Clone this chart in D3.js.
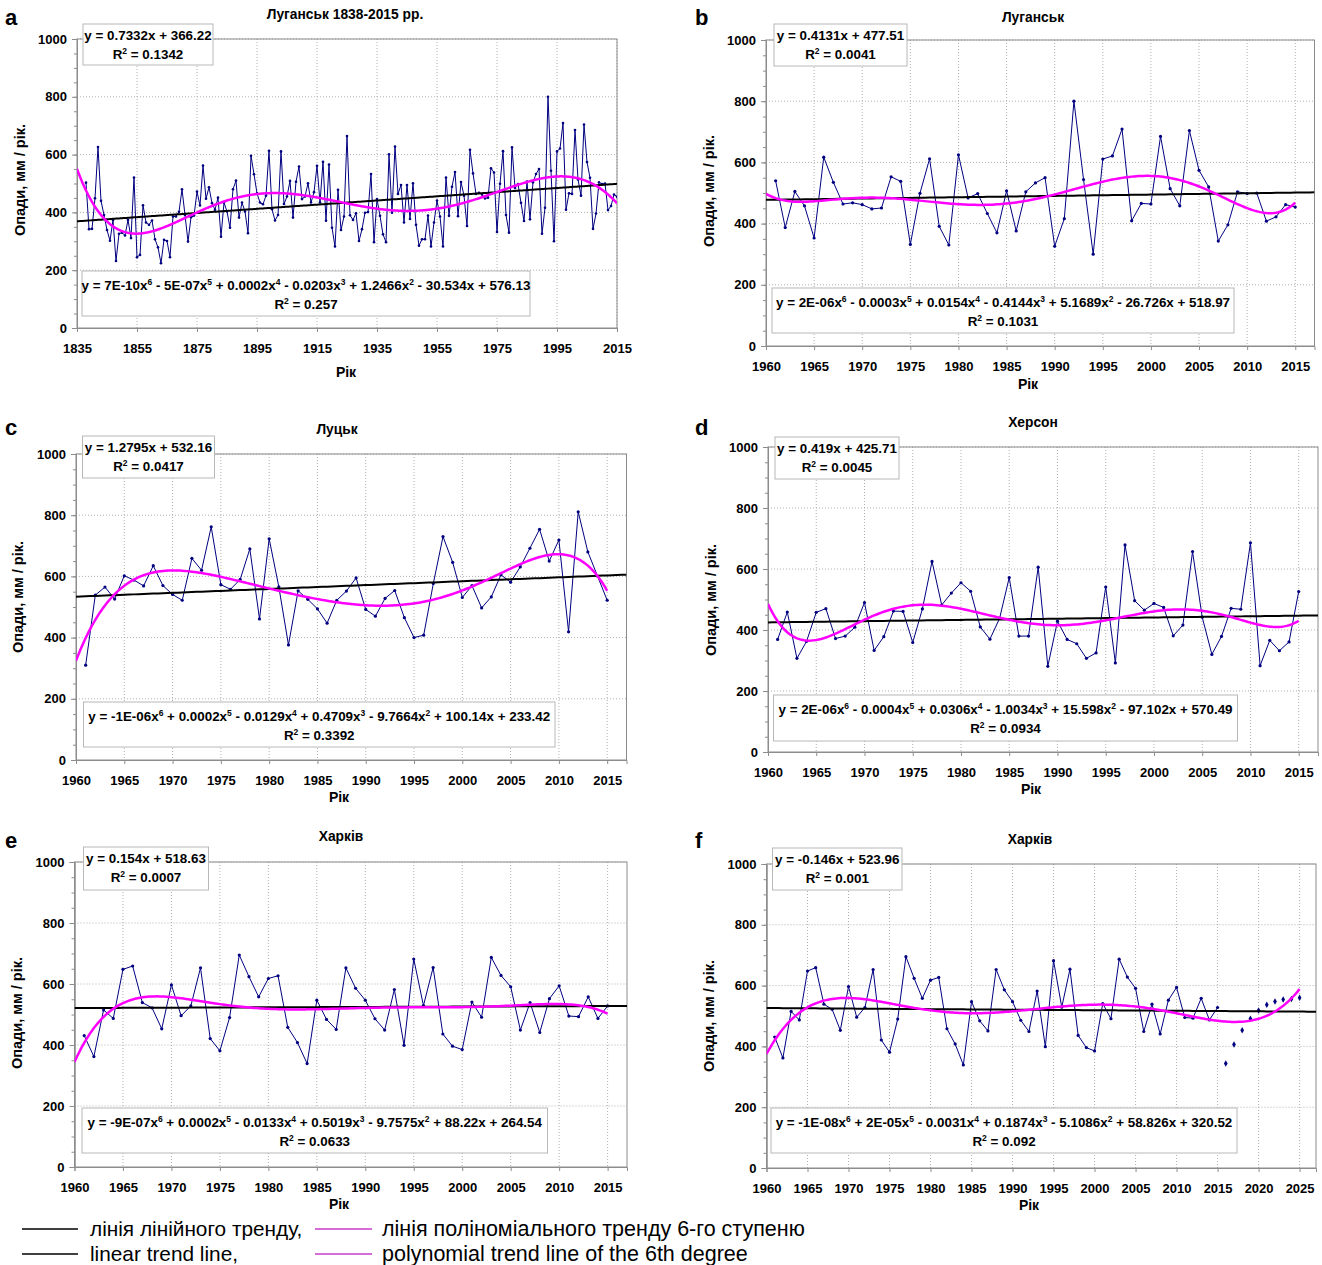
<!DOCTYPE html>
<html>
<head>
<meta charset="utf-8">
<script src="https://cdn.jsdelivr.net/npm/d3@7"></script>
<style>
body { margin: 0; background: #fff; }
svg text { font-family: "Liberation Sans", Arial, sans-serif; }
</style>
</head>
<body>
<svg id="fig" width="1322" height="1265"></svg>
<script>
// annual precipitation, mm / year
const luhanskEarly = [ // 1838-1960
  503, 342, 343, 449, 626, 440, 391, 339, 302, 374,
  232, 326, 330, 320, 374, 311, 521, 245, 253, 425,
  365, 357, 372, 307, 279, 224, 305, 301, 245, 386,
  386, 402, 480, 391, 299, 383, 389, 472, 424, 562,
  447, 487, 432, 409, 451, 316, 434, 403, 347, 480,
  510, 382, 434, 403, 328, 596, 532, 466, 434, 428,
  458, 613, 411, 372, 391, 611, 429, 455, 509, 382,
  506, 559, 446, 455, 501, 434, 470, 561, 434, 575,
  371, 566, 347, 282, 478, 339, 386, 664, 390, 374,
  397, 301, 342, 399, 401, 533, 297, 446, 388, 324,
  297, 601, 399, 628, 464, 495, 365, 495, 377, 501,
  357, 285, 307, 307, 389, 282, 365, 441, 386, 282,
  521, 388, 489
];
const luhansk = [ // 1961-2015
  540, 387, 505, 458, 353, 617, 535, 464, 468, 462,
  448, 451, 553, 538, 332, 499, 612, 391, 330, 625,
  484, 498, 433, 370, 507, 376, 504, 533, 550, 326,
  416, 800, 544, 300, 611, 621, 709, 409, 466, 464,
  685, 514, 458, 704, 574, 520, 343, 396, 504, 498,
  500, 408, 422, 462, 454
];
const lutsk = [ // 1961-2015
  310, 539, 565, 526, 602, 588, 569, 635, 570, 541,
  522, 659, 620, 762, 573, 558, 590, 690, 461, 723,
  566, 376, 553, 525, 494, 447, 522, 552, 595, 492,
  470, 528, 554, 465, 400, 408, 577, 730, 646, 531,
  570, 497, 533, 605, 581, 631, 692, 754, 650, 719,
  419, 811, 680, 601, 522
];
const kherson = [ // 1961-2015
  369, 459, 307, 363, 458, 470, 372, 380, 409, 490,
  333, 378, 462, 461, 359, 469, 625, 482, 521, 555,
  527, 410, 370, 438, 572, 380, 380, 606, 281, 429,
  369, 355, 307, 325, 541, 292, 679, 496, 465, 487,
  474, 381, 416, 657, 442, 320, 379, 471, 468, 686,
  283, 366, 332, 361, 526
];
const kharkiv = [ // 1961-2015
  431, 362, 515, 487, 648, 659, 539, 522, 453, 597,
  496, 528, 653, 421, 381, 490, 695, 624, 558, 618,
  627, 458, 408, 339, 547, 484, 451, 653, 586, 547,
  486, 449, 582, 399, 682, 529, 654, 436, 396, 385,
  541, 491, 687, 628, 591, 449, 539, 441, 552, 594,
  495, 493, 558, 487, 528
];
const kharkivForecast = [344, 406, 453, 491, 518, 537, 548, 554, 556, 560]; // 2016-2025

const titles = ["Луганськ 1838-2015 рр.", "Луганськ", "Луцьк", "Херсон", "Харків", "Харків"];
const letters = ["a", "b", "c", "d", "e", "f"];
const linEq = [
  ["y = 0.7332x + 366.22", "R^2 = 0.1342"],
  ["y = 0.4131x + 477.51", "R^2 = 0.0041"],
  ["y = 1.2795x + 532.16", "R^2 = 0.0417"],
  ["y = 0.419x + 425.71", "R^2 = 0.0045"],
  ["y = 0.154x + 518.63", "R^2 = 0.0007"],
  ["y = -0.146x + 523.96", "R^2 = 0.001"]
];
const polyEq = [
  ["y = 7E-10x^6 - 5E-07x^5 + 0.0002x^4 - 0.0203x^3 + 1.2466x^2 - 30.534x + 576.13", "R^2 = 0.257"],
  ["y = 2E-06x^6 - 0.0003x^5 + 0.0154x^4 - 0.4144x^3 + 5.1689x^2 - 26.726x + 518.97", "R^2 = 0.1031"],
  ["y = -1E-06x^6 + 0.0002x^5 - 0.0129x^4 + 0.4709x^3 - 9.7664x^2 + 100.14x + 233.42", "R^2 = 0.3392"],
  ["y = 2E-06x^6 - 0.0004x^5 + 0.0306x^4 - 1.0034x^3 + 15.598x^2 - 97.102x + 570.49", "R^2 = 0.0934"],
  ["y = -9E-07x^6 + 0.0002x^5 - 0.0133x^4 + 0.5019x^3 - 9.7575x^2 + 88.22x + 264.54", "R^2 = 0.0633"],
  ["y = -1E-08x^6 + 2E-05x^5 - 0.0031x^4 + 0.1874x^3 - 5.1086x^2 + 58.826x + 320.52", "R^2 = 0.092"]
];
const yTicks = d3.range(0, 1001, 200);
const yMinor = d3.range(0, 1001, 50);

// panel geometry
const layout = [
  { left: 77, right: 617, top: 39, bottom: 328, domain: [1835, 2015], ticks: d3.range(1835, 2016, 20),
    letter: [5, 25], title: [345, 19], ylab: [20, 180], xlab: [346, 377],
    lin: [83, 24, 213, 65], poly: [82, 271, 530, 316] },
  { left: 766, right: 1314.5, top: 40, bottom: 346, domain: [1960, 2017], ticks: d3.range(1960, 2016, 5),
    letter: [695, 25], title: [1033, 22], ylab: [709, 191], xlab: [1028, 389],
    lin: [774, 24, 907, 66], poly: [772, 288, 1234, 333] },
  { left: 76, right: 626.5, top: 454, bottom: 760, domain: [1960, 2017], ticks: d3.range(1960, 2016, 5),
    letter: [5, 435], title: [337, 434], ylab: [18, 597], xlab: [339, 802],
    lin: [82.5, 436, 214.5, 478], poly: [83.5, 702, 555, 747] },
  { left: 768, right: 1318, top: 447, bottom: 752, domain: [1960, 2017], ticks: d3.range(1960, 2016, 5),
    letter: [695, 435], title: [1033, 427], ylab: [711, 600], xlab: [1031, 794],
    lin: [775, 437, 899, 479], poly: [773.5, 695, 1237.5, 741] },
  { left: 74.5, right: 627, top: 862, bottom: 1167, domain: [1960, 2017], ticks: d3.range(1960, 2016, 5),
    letter: [5, 848], title: [341, 841], ylab: [17, 1013], xlab: [339, 1209],
    lin: [83.5, 847, 208.5, 890], poly: [82, 1108, 547.5, 1153] },
  { left: 766.5, right: 1316, top: 864, bottom: 1168, domain: [1960, 2027], ticks: d3.range(1960, 2026, 5),
    letter: [695, 848], title: [1030, 844], ylab: [709, 1016], xlab: [1029, 1210],
    lin: [772.5, 848, 902, 890], poly: [771, 1108, 1237, 1153] }
];
const panelData = [
  { first: 1838, values: luhanskEarly.concat(luhansk), extra: [] },
  { first: 1961, values: luhansk, extra: [] },
  { first: 1961, values: lutsk, extra: [] },
  { first: 1961, values: kherson, extra: [] },
  { first: 1961, values: kharkiv, extra: [] },
  { first: 1961, values: kharkiv, extra: kharkivForecast }
];

// least squares polynomial, x is the point number 1..n (like the spreadsheet trend)
function polyfit(xs, ys, deg) {
  const m = d3.mean(xs), h = (d3.max(xs) - d3.min(xs)) / 2;
  const n = deg + 1;
  const A = Array.from({ length: n }, () => new Array(n + 1).fill(0));
  xs.forEach((x, k) => {
    const t = (x - m) / h;
    for (let i = 0; i < n; i++) {
      for (let j = 0; j < n; j++) A[i][j] += Math.pow(t, i + j);
      A[i][n] += Math.pow(t, i) * ys[k];
    }
  });
  for (let c = 0; c < n; c++) {
    let p = c;
    for (let r = c + 1; r < n; r++) if (Math.abs(A[r][c]) > Math.abs(A[p][c])) p = r;
    [A[c], A[p]] = [A[p], A[c]];
    for (let r = 0; r < n; r++) {
      if (r === c) continue;
      const f = A[r][c] / A[c][c];
      for (let j = c; j <= n; j++) A[r][j] -= f * A[c][j];
    }
  }
  const coef = A.map((row, i) => row[n] / row[i]);
  return x => {
    const t = (x - m) / h;
    return coef.reduce((s, c, i) => s + c * Math.pow(t, i), 0);
  };
}

function richText(sel, str) {
  const parts = str.split(/\^(\d)/);
  parts.forEach((p, i) => {
    if (i % 2 === 1) {
      sel.append("tspan").attr("dy", -5).attr("font-size", 8.5).text(p);
    } else if (p.length) {
      sel.append("tspan").attr("dy", i > 0 ? 5 : 0).text(p);
    }
  });
}

function eqBox(g, box, lines, off1, off2) {
  const [x1, y1, x2, y2] = box;
  g.append("rect").attr("x", x1).attr("y", y1).attr("width", x2 - x1).attr("height", y2 - y1)
    .attr("fill", "#fff").attr("stroke", "#b8b8b8").attr("stroke-width", 1);
  [off1, off2].forEach((off, i) => {
    const t = g.append("text").attr("x", (x1 + x2) / 2).attr("y", y1 + off + 4.8)
      .attr("text-anchor", "middle").attr("font-size", 13.4).attr("font-weight", "bold");
    richText(t, lines[i]);
  });
}

const svg = d3.select("#fig");

function drawPanel(i) {
  const p = layout[i], dat = panelData[i];
  const x = d3.scaleLinear().domain(p.domain).range([p.left, p.right]);
  const y = d3.scaleLinear().domain([0, 1000]).range([p.bottom, p.top]);
  const g = svg.append("g");

  // grid
  g.append("g").selectAll("line").data(yTicks.slice(1)).join("line")
    .attr("x1", p.left).attr("x2", p.right)
    .attr("y1", d => y(d)).attr("y2", d => y(d))
    .attr("stroke", "#b0b0b0").attr("stroke-dasharray", "1,2");
  g.append("g").selectAll("line").data(p.ticks.slice(1)).join("line")
    .attr("x1", d => x(d)).attr("x2", d => x(d))
    .attr("y1", p.top).attr("y2", p.bottom)
    .attr("stroke", "#b0b0b0").attr("stroke-dasharray", "1,2");
  g.append("rect").attr("x", p.left).attr("y", p.top)
    .attr("width", p.right - p.left).attr("height", p.bottom - p.top)
    .attr("fill", "none").attr("stroke", "#8c8c8c");

  // axes
  const xa = g.append("g").attr("transform", `translate(0,${p.bottom})`)
    .call(d3.axisBottom(x).tickValues(p.ticks).tickFormat(d3.format("d")).tickSize(4).tickPadding(11.5));
  const ya = g.append("g").attr("transform", `translate(${p.left},0)`)
    .call(d3.axisLeft(y).tickValues(yTicks).tickFormat(d3.format("d")).tickSize(5).tickPadding(5));
  const ym = g.append("g").attr("transform", `translate(${p.left},0)`)
    .call(d3.axisLeft(y).tickValues(yMinor).tickFormat("").tickSize(3));
  [xa, ya, ym].forEach(a => {
    a.select(".domain").attr("stroke", "#8c8c8c");
    a.selectAll(".tick line").attr("stroke", "#8c8c8c");
    a.selectAll("text").attr("font-size", 13).attr("font-weight", "bold")
      .attr("font-family", '"Liberation Sans", Arial, sans-serif').attr("fill", "#000");
  });

  // clip
  const cid = "clip" + i;
  svg.append("clipPath").attr("id", cid).append("rect")
    .attr("x", p.left).attr("y", p.top).attr("width", p.right - p.left).attr("height", p.bottom - p.top);
  const plot = g.append("g").attr("clip-path", `url(#${cid})`);

  const pts = dat.values.map((v, k) => ({ year: dat.first + k, v }));
  const extra = dat.extra.map((v, k) => ({ year: dat.first + dat.values.length + k, v }));
  const all = pts.concat(extra);

  const line = d3.line().x(d => x(d.year)).y(d => y(d.v));
  plot.append("path").datum(pts).attr("d", line)
    .attr("fill", "none").attr("stroke", "#000080").attr("stroke-width", 1);
  plot.append("g").selectAll("circle").data(pts).join("circle")
    .attr("cx", d => x(d.year)).attr("cy", d => y(d.v))
    .attr("r", i === 0 ? 1.3 : 1.6).attr("fill", "#000080");
  plot.append("g").selectAll("path").data(extra).join("path")
    .attr("transform", d => `translate(${x(d.year)},${y(d.v)})`)
    .attr("d", d3.symbol(d3.symbolDiamond, 12))
    .attr("fill", "#000080");

  // trends, fitted on point numbers 1..n
  const xs = all.map((d, k) => k + 1), ys = all.map(d => d.v);
  const lin = polyfit(xs, ys, 1), poly = polyfit(xs, ys, 6);
  const toN = yr => yr - dat.first + 1;
  const lastYear = all[all.length - 1].year;
  const tl = d3.line().x(d => x(d)).y(d => y(lin(toN(d))));
  const tp = d3.line().x(d => x(d)).y(d => y(poly(toN(d))));
  plot.append("path").datum(d3.range(p.domain[0], p.domain[1] + 0.01, 0.5)).attr("d", tl)
    .attr("fill", "none").attr("stroke", "#000").attr("stroke-width", 2);
  plot.append("path").datum(d3.range(p.domain[0], lastYear + 0.01, 0.25)).attr("d", tp)
    .attr("fill", "none").attr("stroke", "#ff00ff").attr("stroke-width", 2.5);

  // labels
  eqBox(g, p.lin, linEq[i], 11, 30);
  eqBox(g, p.poly, polyEq[i], 14, 33);

  g.append("text").attr("x", p.letter[0]).attr("y", p.letter[1])
    .attr("font-size", 22).attr("font-weight", "bold").text(letters[i]);
  g.append("text").attr("x", p.title[0]).attr("y", p.title[1]).attr("text-anchor", "middle")
    .attr("font-size", 13.8).attr("font-weight", "bold").text(titles[i]);
  g.append("text").attr("transform", `translate(${p.ylab[0]},${p.ylab[1]}) rotate(-90)`)
    .attr("text-anchor", "middle").attr("dominant-baseline", "central")
    .attr("font-size", 14.5).attr("font-weight", "bold").text("Опади, мм / рік.");
  g.append("text").attr("x", p.xlab[0]).attr("y", p.xlab[1]).attr("text-anchor", "middle")
    .attr("font-size", 14).attr("font-weight", "bold").text("Рік");
}

d3.range(6).forEach(drawPanel);

// legend
const legendRows = [
  ["лінія лінійного тренду,", "лінія поліноміального тренду 6-го ступеню"],
  ["linear trend line,", "polynomial trend line of the 6th degree"]
];
const leg = svg.append("g");
legendRows.forEach((row, r) => {
  const cy = 1229 + r * 25;
  leg.append("line").attr("x1", 22).attr("x2", 78).attr("y1", cy).attr("y2", cy)
    .attr("stroke", "#000").attr("stroke-width", 1.3);
  leg.append("line").attr("x1", 315).attr("x2", 372).attr("y1", cy).attr("y2", cy)
    .attr("stroke", "#c83cc8").attr("stroke-width", 1.3);
  leg.append("text").attr("x", 90).attr("y", cy + 7).attr("font-size", 20.8).text(row[0]);
  leg.append("text").attr("x", 382).attr("y", cy + 7).attr("font-size", 21.5).text(row[1]);
});
</script>
</body>
</html>
